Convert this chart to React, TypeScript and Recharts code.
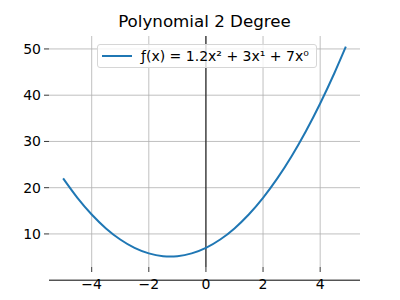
import React from "react";
import {
  CartesianGrid,
  Line,
  LineChart,
  ReferenceLine,
  XAxis,
  YAxis,
} from "recharts";

// values
const xValues = [-5, -4.5, -4, -3.5, -3, -2.5, -2, -1.5, -1.25, -1, -0.5, 0, 0.5, 1, 1.5, 2, 2.5, 3, 3.5, 4, 4.5, 4.9];
const yValues = [22, 17.8, 14.2, 11.2, 8.8, 7.0, 5.8, 5.2, 5.125, 5.2, 5.8, 7, 8.8, 11.2, 14.2, 17.8, 22, 26.8, 32.2, 38.2, 44.8, 50.5];

const xTicks = [-4, -2, 0, 2, 4];
const yTicks = [10, 20, 30, 40, 50];

const seriesLabel = "ƒ(x) = 1.2x² + 3x¹ + 7x⁰";
const title = "Polynomial 2 Degree";

const FONT = "'DejaVu Sans', sans-serif";
const BLUE = "#1f77b4";

const data = xValues.map((x, i) => ({ x, y: yValues[i] }));

const minusSign = (v: number) => String(v).replace("-", "\u2212");

const LegendBox = () => (
  <div
    style={{
      position: "absolute",
      left: 97,
      top: 44,
      display: "flex",
      alignItems: "center",
      border: "1px solid #d6d6d6",
      borderRadius: 3,
      background: "rgba(255,255,255,0.8)",
      height: 22,
      padding: "0 7px 0 4px",
      fontFamily: FONT,
      fontSize: 14,
      color: "#000",
      whiteSpace: "nowrap",
      zIndex: 2,
    }}
  >
    <svg width={30} height={4} style={{ marginRight: 9 }}>
      <line x1={0} y1={2} x2={30} y2={2} stroke={BLUE} strokeWidth={2} />
    </svg>
    <span>{seriesLabel}</span>
  </div>
);

export default function App() {
  return (
    <div style={{ position: "absolute", left: 0, top: 0, width: 400, height: 300, background: "#fff" }}>
      <div
        style={{
          position: "absolute",
          left: 49,
          width: 311,
          top: 11,
          textAlign: "center",
          fontFamily: FONT,
          fontSize: 16.7,
          color: "#000",
          zIndex: 2,
        }}
      >
        {title}
      </div>
      <LineChart width={400} height={300} data={data} margin={{ top: 36, right: 40, bottom: 0, left: 0 }}>
        <CartesianGrid stroke="#b0b0b0" strokeWidth={0.8} syncWithTicks />
        <XAxis
          dataKey="x"
          type="number"
          domain={[-5.495, 5.395]}
          ticks={xTicks}
          height={33}
          axisLine={false}
          tickLine={{ stroke: "#000", strokeWidth: 0.8 }}
          tickSize={5}
          tickMargin={7}
          tickFormatter={minusSign}
          tick={{ fill: "#000", fontFamily: FONT, fontSize: 14 }}
          allowDataOverflow
        />
        <YAxis
          type="number"
          domain={[2.85, 52.8]}
          ticks={yTicks}
          width={49}
          axisLine={false}
          tickLine={{ stroke: "#000", strokeWidth: 0.8 }}
          tickSize={5}
          tickMargin={3}
          tick={{ fill: "#000", fontFamily: FONT, fontSize: 14 }}
          allowDataOverflow
        />
        <ReferenceLine x={0} stroke="#000" strokeWidth={1} />
        <ReferenceLine y={0} stroke="#000" strokeWidth={1} ifOverflow="visible" />
        <Line
          dataKey="y"
          type="monotone"
          stroke={BLUE}
          strokeWidth={2}
          dot={false}
          isAnimationActive={false}
        />
      </LineChart>
      <LegendBox />
    </div>
  );
}
